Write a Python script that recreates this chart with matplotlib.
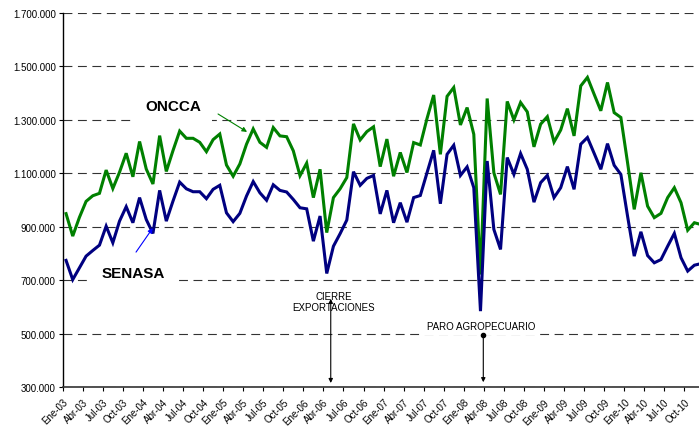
import matplotlib
matplotlib.use("Agg")
import matplotlib.pyplot as plt
from matplotlib.ticker import FuncFormatter, FixedLocator

plt.rcParams["font.family"] = ["Liberation Sans", "DejaVu Sans"]

# Monthly series, Ene-03 .. Dic-10 (heads)
oncca = [949, 865, 935, 995, 1016, 1025, 1112, 1043, 1104, 1175, 1087, 1219,
         1116, 1060, 1241, 1107, 1185, 1258, 1231, 1231, 1216, 1181, 1226, 1247,
         1131, 1089, 1135, 1209, 1266, 1216, 1197, 1271, 1240, 1237, 1184, 1091,
         1138, 1009, 1115, 878, 1009, 1042, 1084, 1285, 1225, 1256, 1274, 1125,
         1228, 1089, 1178, 1103, 1215, 1206, 1305, 1393, 1171, 1388, 1421, 1281,
         1346, 1246, 721, 1380, 1102, 1021, 1369, 1300, 1365, 1330, 1199, 1284,
         1312, 1217, 1262, 1342, 1240, 1427, 1459, 1396, 1334, 1440, 1327, 1309,
         1140, 965, 1102, 977, 934, 950, 1009, 1046, 990, 887, 915, 908]
senasa = [774, 702, 746, 790, 811, 831, 902, 840, 921, 975, 915, 1009,
          927, 875, 1036, 921, 996, 1067, 1042, 1031, 1031, 1005, 1040, 1055,
          952, 919, 950, 1015, 1069, 1027, 999, 1057, 1036, 1030, 1002, 971,
          967, 846, 940, 725, 827, 874, 925, 1106, 1055, 1081, 1092, 948,
          1036, 915, 990, 917, 1009, 1017, 1102, 1186, 986, 1171, 1205, 1092,
          1124, 1046, 584, 1146, 890, 815, 1159, 1096, 1174, 1115, 992, 1065,
          1092, 1009, 1046, 1125, 1040, 1209, 1234, 1175, 1115, 1211, 1130, 1096,
          940, 790, 881, 792, 765, 777, 827, 875, 784, 734, 756, 762]
oncca = [v * 1000 for v in oncca]
senasa = [v * 1000 for v in senasa]

months = ["Ene", "Abr", "Jul", "Oct"]
years = ["03", "04", "05", "06", "07", "08", "09", "10"]
tick_labels = [f"{m}-{y}" for y in years for m in months]

x = list(range(len(oncca)))

fig = plt.figure(figsize=(6.99, 4.27), dpi=100)
ax = fig.add_axes([0.0897, 0.0913, 0.9103, 0.8759])

ax.plot(x, oncca, color="#008000", lw=2.2, zorder=3, solid_joinstyle="miter")
ax.plot(x, senasa, color="#000080", lw=2.2, zorder=3, solid_joinstyle="miter")

ax.set_xlim(-0.5, 94.69)
ax.set_ylim(300000, 1700000)
ax.set_yticks(range(300000, 1700001, 200000))
ax.yaxis.set_major_formatter(FuncFormatter(lambda v, p: f"{int(v):,}".replace(",", ".")))

ticks = [i * 3 - 0.5 for i in range(len(tick_labels))]
ax.xaxis.set_major_locator(FixedLocator(ticks))
ax.set_xticklabels(tick_labels)
for lbl in ax.get_xticklabels():
    lbl.set_rotation(45)
    lbl.set_ha("right")
    lbl.set_rotation_mode("anchor")

ax.tick_params(axis="both", labelsize=7, colors="black", length=3, width=0.8, pad=2)
ax.tick_params(axis="x", pad=4)

ax.yaxis.grid(True, color="#333333", lw=0.8, linestyle=(0, (8, 5)), zorder=1)
ax.set_axisbelow(True)
for s in ("top", "right"):
    ax.spines[s].set_visible(False)
ax.spines["left"].set_color("black")
ax.spines["bottom"].set_color("#333333")
ax.spines["left"].set_linewidth(1.0)
ax.spines["bottom"].set_linewidth(1.2)

# labels for the series
ax.text(16.08, 1352000, "ONCCA", fontsize=11, fontweight="bold", ha="center",
        va="center", zorder=4,
        bbox=dict(boxstyle="square,pad=0.7", fc="white", ec="none"))
ax.annotate("", xy=(27.08, 1255000), xytext=(22.74, 1322000),
            arrowprops=dict(arrowstyle="-|>", color="#008000", lw=0.8,
                            mutation_scale=7, shrinkA=0, shrinkB=0), zorder=5)

ax.text(10.02, 727000, "SENASA", fontsize=11, fontweight="bold", ha="center",
        va="center", zorder=4,
        bbox=dict(boxstyle="square,pad=0.7", fc="white", ec="none"))
ax.annotate("", xy=(12.97, 895000), xytext=(10.47, 805000),
            arrowprops=dict(arrowstyle="-|>", color="#0000FF", lw=0.8,
                            mutation_scale=7, shrinkA=0, shrinkB=0), zorder=5)

# events
ax.text(40.06, 620000, "CIERRE\nEXPORTACIONES", fontsize=7, ha="center",
        va="center", linespacing=1.1, zorder=4)
ax.annotate("", xy=(39.6, 315000), xytext=(39.6, 630000),
            arrowprops=dict(arrowstyle="<|-|>", color="black", lw=0.8,
                            mutation_scale=6, shrinkA=0, shrinkB=0), zorder=5)

ax.text(62.15, 528000, "PARO AGROPECUARIO", fontsize=7, ha="center",
        va="center", zorder=4,
        bbox=dict(boxstyle="square,pad=0.45", fc="white", ec="none"))
ax.annotate("", xy=(62.42, 318000), xytext=(62.42, 495000),
            arrowprops=dict(arrowstyle="-|>", color="black", lw=0.8,
                            mutation_scale=6, shrinkA=0, shrinkB=0), zorder=5)
ax.plot([62.42], [495000], marker="o", ms=3, color="black", zorder=5, clip_on=False)

fig.savefig("out.png", dpi=100)
